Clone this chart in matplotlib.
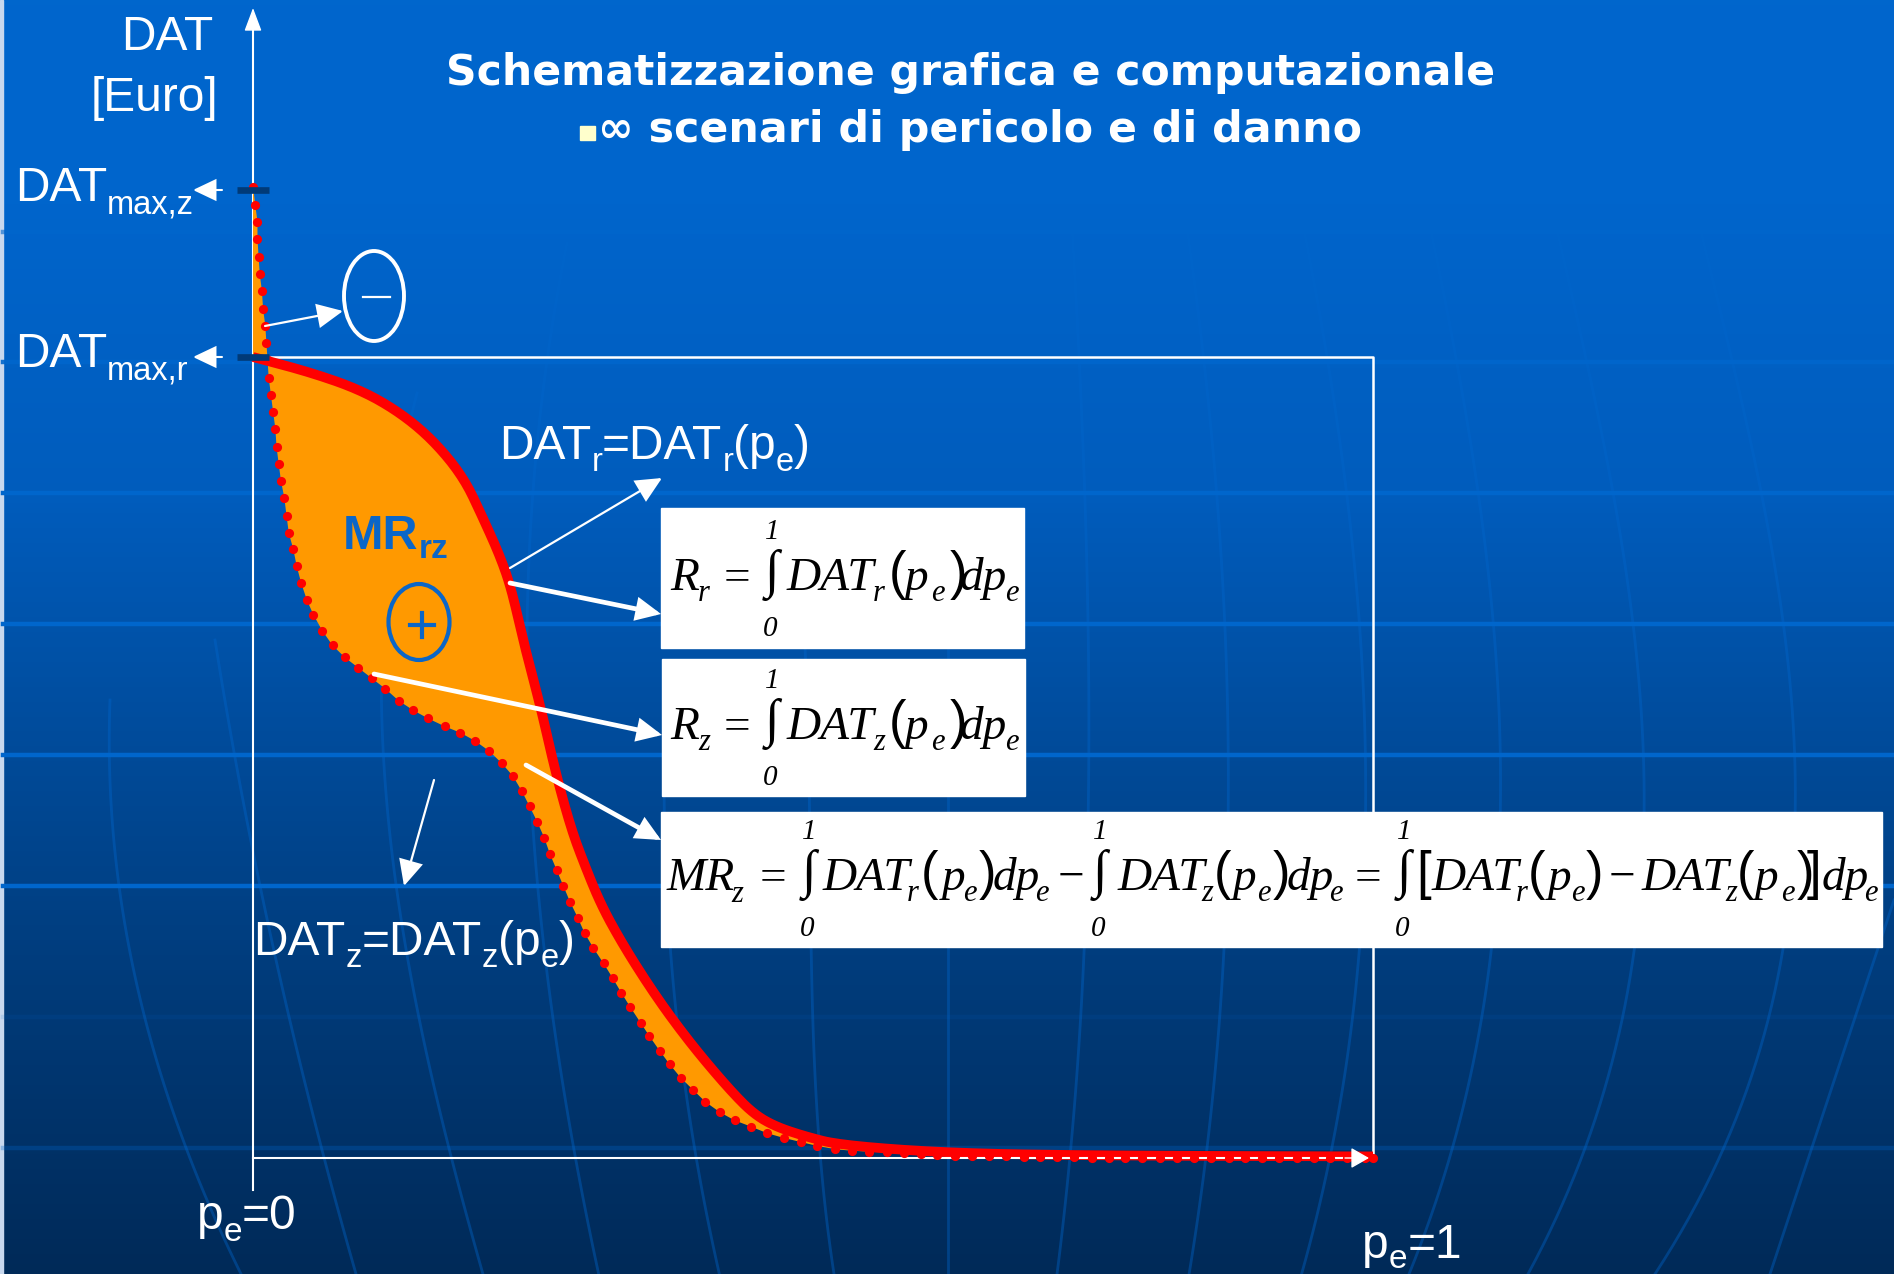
import matplotlib
matplotlib.use("Agg")
import matplotlib.pyplot as plt
import numpy as np
from matplotlib.colors import LinearSegmentedColormap
from matplotlib.patches import Ellipse, FancyArrowPatch, Rectangle

W, H = 1894, 1274

# curve with the scenario r (solid)
PE_R = [0, .051, .096, .131, .161, .188, .205, .221, .231, .241, .257, .270, .284, .296,
        .311, .330, .353, .375, .400, .429, .448, .467, .493, .524, .622, .756, 1.0]
DAT_R = [1.0, .981, .959, .931, .896, .850, .800, .750, .709, .647, .562, .482, .411, .366,
         .315, .267, .216, .172, .127, .080, .054, .039, .027, .016, .006, .003, .002]

# curve with the scenario z (dotted, every dot read on its own)
PE_Z = [0, .002, .004, .004, .005, .006, .008, .009, .011, .012, .013, .014, .016, .018, .020,
        .021, .023, .025, .028, .030, .032, .036, .039, .043, .048, .054, .062, .071, .082,
        .094, .106, .118, .130, .143, .156, .171, .185, .198, .211, .222, .232, .240, .247,
        .254, .260, .265, .271, .277, .283, .290, .296, .304, .313, .321, .329, .337, .346,
        .354, .363, .372, .382, .393, .404, .417, .430, .445, .459, .474, .489, .504, .520,
        .535, .550, .566, .581, .596, .611, .627, .642, .657, .672, .688, .703, .718, .733,
        .749, .764, .779, .794, .810, .825, .840, .855, .871, .886, .901, .916, .932, .947,
        .962, .977, .993, 1.0]
DAT_Z = [1.212, 1.190, 1.169, 1.147, 1.125, 1.104, 1.082, 1.060, 1.039, 1.017, .996, .974, .953,
         .931, .910, .888, .866, .845, .824, .801, .780, .760, .739, .718, .697, .678, .658,
         .640, .625, .612, .599, .586, .571, .559, .549, .539, .531, .521, .508, .493, .477,
         .458, .439, .419, .400, .380, .360, .340, .320, .300, .281, .262, .243, .225, .206,
         .188, .169, .152, .134, .117, .100, .085, .070, .057, .047, .039, .031, .025, .020,
         .015, .011, .009, .008, .007, .006, .005, .004, .003, .003, .002, .002, .001, .001,
         .001, .001, 0, 0, 0, 0, 0, 0, 0, 0, 0, 0, 0, 0, 0, 0, 0, 0, 0, 0]

DAT_MAX_Z = 1.208

# background decoration, read in image pixels
BANDS_Y = [232, 362, 493, 624, 755, 886, 1017, 1148]
BANDS_ALPHA = [.6, .9, 1, 1, 1, 1, .12, .3]
MERIDIANS = [
    [(110, 700), (121, 900), (241, 1274)],
    [(215, 640), (263, 900), (356, 1274)],
    [(417, 393), (382, 686), (394, 886), (417, 997), (448, 1147), (483, 1274)],
    [(567, 243), (533, 493), (532, 811), (551, 1011), (580, 1175), (598, 1274)],
    [(664, 797), (671, 947), (683, 1086), (698, 1158), (719, 1274)],
    [(805, 647), (810, 854), (819, 1140), (834, 1274)],
    [(948, 650), (948, 947), (948, 1274)],
    [(1068, 160), (1085, 500), (1088, 820), (1075, 1100), (1057, 1274)],
    [(1177, 160), (1222, 600), (1231, 820), (1210, 1100), (1190, 1274)],
    [(1290, 160), (1355, 600), (1370, 820), (1337, 1100), (1303, 1274)],
    [(1416, 160), (1490, 600), (1502, 820), (1450, 1150), (1410, 1274)],
    [(1541, 160), (1630, 600), (1644, 820), (1528, 1274)],
    [(1684, 160), (1780, 600), (1795, 820), (1655, 1274)],
    [(1894, 900), (1770, 1274)],
]

plt.rcParams["font.family"] = "Liberation Sans"


def pixel_axes(fig):
    ax = fig.add_axes([0, 0, 1, 1])
    ax.set_xlim(0, W)
    ax.set_ylim(H, 0)
    ax.axis("off")
    ax.patch.set_alpha(0)
    return ax


def smooth(xs, ys, n=12):
    # quadratic bezier through segment midpoints, data points act as control points
    px, py = np.array(xs, float), np.array(ys, float)
    mx, my = (px[:-1] + px[1:]) / 2, (py[:-1] + py[1:]) / 2
    out_x, out_y = [px[0]], [py[0]]
    t = np.linspace(0, 1, n)
    for i in range(1, len(px) - 1):
        out_x.extend((1 - t) ** 2 * mx[i - 1] + 2 * t * (1 - t) * px[i] + t ** 2 * mx[i])
        out_y.extend((1 - t) ** 2 * my[i - 1] + 2 * t * (1 - t) * py[i] + t ** 2 * my[i])
    out_x.append(px[-1])
    out_y.append(py[-1])
    return out_x, out_y


def arrow(ax, start, end, lw=1.5, scale=20):
    ax.add_patch(FancyArrowPatch(start, end, arrowstyle="-|>,head_length=0.8,head_width=0.38",
                                 mutation_scale=scale, linewidth=lw, color="white",
                                 shrinkA=0, shrinkB=0, joinstyle="miter"))


def label(ax, x, y, parts, size=34.5, sub_size=24, drop=12, ha="left", color="white", weight="normal"):
    # parts: plain string, or list of strings where every odd item is a subscript
    if isinstance(parts, str):
        parts = [parts]
    renderer = ax.figure.canvas.get_renderer()
    for i, s in enumerate(parts):
        is_sub = i % 2 == 1
        t = ax.text(x, y + (drop if is_sub else 0), s, fontsize=sub_size if is_sub else size,
                    color=color, ha=ha, va="baseline", fontweight=weight)
        x += t.get_window_extent(renderer).width


def serif(ax, x, y, s, size=34, style="italic"):
    ax.text(x, y, s, fontsize=size, color="black", ha="left", va="baseline",
            family="Liberation Serif", style=style)


def paren(ax, x, y, s):
    ax.text(x, y, s, fontsize=38, color="black", ha="left", va="baseline", family="Liberation Sans")


def integral(ax, x, base):
    ax.text(x + 3, base - 3, "\u222b", fontsize=38, color="black", ha="left", va="baseline",
            family="Liberation Serif", fontweight="bold")
    serif(ax, x + 3, base - 51, "1", 21)
    serif(ax, x + 1, base + 46, "0", 21)


def term(ax, x_dat, x_sub, sub, x_open, x_p, x_e, x_close, base):
    serif(ax, x_dat, base, "DAT")
    serif(ax, x_sub, base + 11, sub, 22)
    paren(ax, x_open, base - 1, "(")
    serif(ax, x_p, base, "p")
    serif(ax, x_e, base + 11, "e", 22)
    paren(ax, x_close, base - 1, ")")


def small_formula(ax, sub, base):
    serif(ax, 670, base, "R")
    serif(ax, 698, base + 11, sub, 22)
    serif(ax, 724, base, "=", 34, "normal")
    integral(ax, 762, base)
    term(ax, 787, 873, sub, 889, 905, 931, 950, base)
    serif(ax, 960, base, "dp")
    serif(ax, 1005, base + 11, "e", 22)


def main():
    fig = plt.figure(figsize=(W / 100, H / 100), dpi=100)

    # back layer: gradient, bands, globe lines
    back = pixel_axes(fig)
    stops = [(0, "#0066CC"), (200 / H, "#0065CC"), (500 / H, "#005CBC"), (820 / H, "#004690"),
             (1000 / H, "#003A78"), (1, "#002A58")]
    cmap = LinearSegmentedColormap.from_list("slide", stops)
    back.imshow(np.linspace(0, 1, H)[:, None], cmap=cmap, extent=(0, W, H, 0), aspect="auto", zorder=0)
    back.set_xlim(0, W)
    back.set_ylim(H, 0)
    back.add_patch(Rectangle((0, 0), 3, H, color="#C8D8EE", zorder=1))

    for pts in MERIDIANS:
        xs, ys = zip(*pts)
        coef = np.polyfit(ys, xs, min(3, len(pts) - 1))
        yy = np.linspace(min(ys), max(ys), 80)
        back.plot(np.polyval(coef, yy), yy, color="#0066CC", alpha=.4, lw=2, zorder=2)
    for y, a in zip(BANDS_Y, BANDS_ALPHA):
        back.plot([3, W], [y, y], color="#0066CC", alpha=a, lw=3.2, zorder=3)

    # frame of the chart
    back.plot([253, 253], [1190, 20], color="white", lw=1.5, zorder=4)
    back.plot([253, 1373, 1373], [357, 357, 1158], color="white", lw=1.8, zorder=4)

    # curves, on real pe / DAT scales
    box = [253 / W, (H - 1158) / H, 1120 / W, 801 / H]
    ax = fig.add_axes(box)
    ax.set_xlim(0, 1)
    ax.set_ylim(0, 1)
    ax.axis("off")
    ax.patch.set_alpha(0)
    rx, ry = smooth(PE_R, DAT_R)
    ax.fill([0] + PE_Z + rx[::-1], [DAT_Z[0]] + DAT_Z + ry[::-1], color="#FF9900", lw=0, clip_on=False, zorder=1)
    ax.plot(rx, ry, color="#FF0000", lw=7, clip_on=False, solid_capstyle="butt", zorder=2)
    ax.plot([0, 1], [0, 0], color="white", lw=1.5, clip_on=False, zorder=3)
    ax.plot(PE_Z, DAT_Z, ls="none", marker="o", ms=6.6, mfc="#FF0000", mec="none", clip_on=False, zorder=4)
    for level in (DAT_MAX_Z, 1.0):
        ax.plot([-.014, .014], [level, level], color="#003A78", lw=4.8, clip_on=False,
                solid_capstyle="butt", zorder=5)

    # front layer: text, arrows, formula boxes
    top = pixel_axes(fig)
    top.set_zorder(5)

    top.add_patch(FancyArrowPatch((253, 40), (253, 8), arrowstyle="-|>,head_length=0.8,head_width=0.3",
                                  mutation_scale=18, lw=1, color="white", shrinkA=0, shrinkB=0))
    top.add_patch(FancyArrowPatch((1345, 1158), (1369, 1158), arrowstyle="-|>,head_length=0.7,head_width=0.4",
                                  mutation_scale=16, lw=1, color="white", shrinkA=0, shrinkB=0))

    top.text(970, 85.5, "Schematizzazione grafica e computazionale", fontsize=30.6, fontweight="bold",
             family="DejaVu Sans", color="white", ha="center", va="baseline")
    top.add_patch(Rectangle((580, 126), 15, 14, color="#FFFFCC"))
    top.text(598, 142, "\u221e scenari di pericolo e di danno", fontsize=30.8, fontweight="bold",
             family="DejaVu Sans", color="white", ha="left", va="baseline")

    label(top, 213, 50, "DAT", ha="right")
    label(top, 218, 111, "[Euro]", ha="right")
    label(top, 15, 201, ["DAT", "max,z"], sub_size=23.5)
    label(top, 15, 367, ["DAT", "max,r"], sub_size=23.5)
    label(top, 499, 459, ["DAT", "r", "=DAT", "r", "(p", "e", ")"], sub_size=23.5)
    label(top, 253, 955, ["DAT", "z", "=DAT", "z", "(p", "e", ")"], sub_size=23.5)
    label(top, 197, 1229, ["p", "e", "=0"])
    label(top, 1362, 1258, ["p", "e", "=1"], drop=10)

    label(top, 343, 549, ["MR", "rz"], size=35, sub_size=24, drop=9, color="#0A66C8", weight="bold")

    top.add_patch(Ellipse((374, 296), 60, 90, fc="none", ec="white", lw=2.8))
    top.plot([363, 390], [296.5, 296.5], color="white", lw=1.6)
    top.add_patch(Ellipse((419, 622), 61, 76, fc="none", ec="#0A66C8", lw=3))
    top.plot([410, 434], [625, 625], color="#0A66C8", lw=3)
    top.plot([422, 422], [613, 637], color="#0A66C8", lw=3)

    arrow(top, (222, 190), (193, 190), 1.5, 18)
    arrow(top, (222, 357), (193, 357), 1.5, 18)
    arrow(top, (265, 326), (343, 311), 1.6, 20)
    arrow(top, (510, 568), (662, 478), 1.6, 20)
    arrow(top, (510, 583), (661, 614), 3.4, 16)
    arrow(top, (374, 674), (662, 735), 3.4, 16)
    arrow(top, (526, 765), (661, 840), 3.4, 16)
    arrow(top, (434, 780), (404, 886), 1.6, 20)

    for x0, y0, x1, y1 in [(661, 508, 1024, 648), (662, 659, 1025, 796), (661, 812, 1882, 947)]:
        top.add_patch(Rectangle((x0, y0), x1 - x0, y1 - y0, color="white", zorder=6))

    small_formula(top, "r", 590)
    small_formula(top, "z", 739)

    base = 890
    serif(top, 667, base, "MR")
    serif(top, 731, base + 12, "z", 22)
    serif(top, 760, base, "=", 34, "normal")
    integral(top, 799, base)
    term(top, 823, 907, "r", 921, 942, 963, 979, base)
    serif(top, 993, base, "dp")
    serif(top, 1035, base + 11, "e", 22)
    serif(top, 1058, base, "\u2212", 34, "normal")
    integral(top, 1090, base)
    term(top, 1118, 1201, "z", 1214, 1233, 1257, 1273, base)
    serif(top, 1287, base, "dp")
    serif(top, 1329, base + 11, "e", 22)
    serif(top, 1355, base, "=", 34, "normal")
    integral(top, 1394, base)
    paren(top, 1416, base - 1, "[")
    term(top, 1432, 1516, "r", 1528, 1548, 1571, 1586, base)
    serif(top, 1609, base, "\u2212", 34, "normal")
    term(top, 1642, 1725, "z", 1737, 1755, 1781, 1797, base)
    paren(top, 1807, base - 1, "]")
    serif(top, 1822, base, "dp")
    serif(top, 1864, base + 11, "e", 22)

    for t in top.texts:
        t.set_zorder(7)

    fig.savefig("out.png", dpi=100)
    plt.close(fig)


if __name__ == "__main__":
    main()
